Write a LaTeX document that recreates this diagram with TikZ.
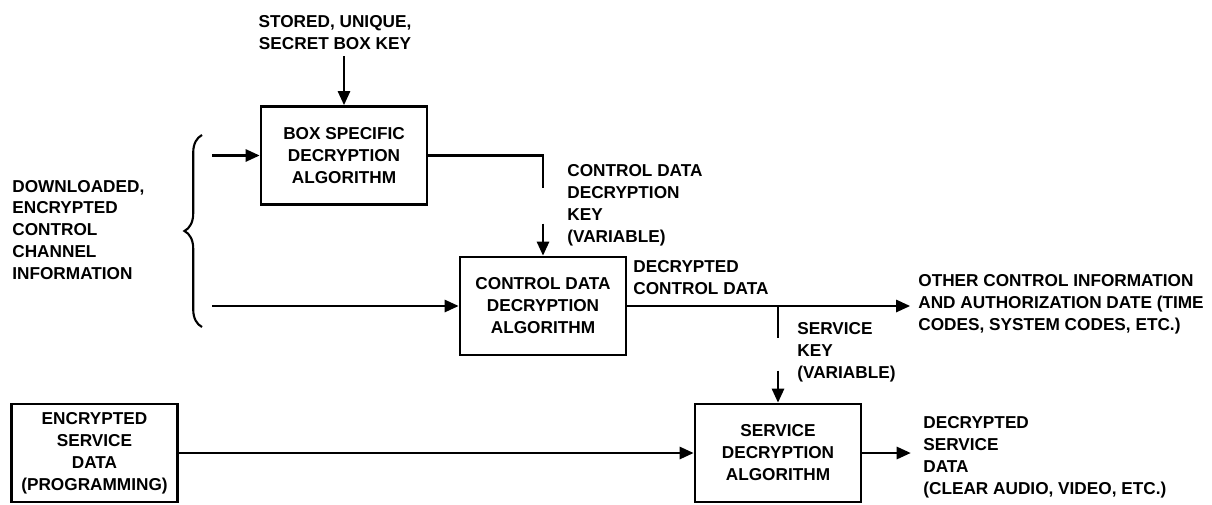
\documentclass[tikz,border=0pt]{standalone}
\usepackage{fontspec}
\setmainfont{Liberation Sans}
\usepackage{tikz}
\usetikzlibrary{
	arrows.meta,
	calc,
	decorations.pathreplacing
}

\begin{document}
\begin{tikzpicture}[x=0.02cm, y=-0.02cm,
	block/.style={draw, line width=1.6pt, minimum width=3.32cm, minimum height=1.96cm, align=center, inner sep=0pt, font=\fontsize{9.8}{12.5}\selectfont\bfseries},
	lbl/.style={align=left, inner sep=0pt, font=\fontsize{9.8}{12.5}\selectfont\bfseries},
	conn/.style={line width=1.2pt},
	arr/.style={line width=1.2pt, -{Triangle[length=8pt, width=7pt]}}]
		\useasboundingbox (0,0) rectangle (1212,504);
		\node[block] (box1) at (344,155.5) {BOX SPECIFIC\\DECRYPTION\\ALGORITHM};
		\node[block] (box2) at (543,306) {CONTROL DATA\\DECRYPTION\\ALGORITHM};
		\node[block] (box3) at (778,453) {SERVICE\\DECRYPTION\\ALGORITHM};
		\node[block] (box4) at (94.5,453) {ENCRYPTED\\SERVICE\\DATA\\(PROGRAMMING)};
		\node[lbl, align=center] (stored) at (335,33) {STORED, UNIQUE,\\SECRET BOX KEY};
		\node[lbl, anchor=west] (downl) at (12,230) {DOWNLOADED,\\ENCRYPTED\\CONTROL\\CHANNEL\\INFORMATION};
		\node[lbl, anchor=west] (cdkey) at (567,205) {CONTROL DATA\\DECRYPTION\\KEY\\(VARIABLE)};
		\node[lbl, anchor=west] (dcd) at (633,278) {DECRYPTED\\CONTROL DATA};
		\node[lbl, anchor=west] (other) at (918,304) {OTHER CONTROL INFORMATION\\AND AUTHORIZATION DATE (TIME\\CODES, SYSTEM CODES, ETC.)};
		\node[lbl, anchor=west] (svkey) at (797,352) {SERVICE\\KEY\\(VARIABLE)};
		\node[lbl, anchor=west] (dsd) at (923,457) {DECRYPTED\\SERVICE\\DATA\\(CLEAR AUDIO, VIDEO, ETC.)};
		\draw[conn, decorate, decoration={brace, amplitude=10pt}] (202,327) -- (202,135);
		\coordinate (brc) at (212,0);
		\draw[arr] (brc |- box1.west) -- (box1.west);
		\draw[arr] (brc |- box2.west) -- (box2.west);
		\draw[arr] ($(box1.north)+(0,-49)$) -- (box1.north);
		\draw[conn] (box1.east) -| ($(box2.north)+(0,-68)$);
		\draw[arr] ($(box2.north)+(0,-32)$) -- (box2.north);
		\draw[arr, shorten >=4.5pt] (box2.east) -- (other.west |- box2.east);
		\coordinate (br) at (box3.north |- box2.east);
		\draw[conn] (br) -- ++(0,32);
		\draw[arr] ($(box3.north)+(0,-32)$) -- (box3.north);
		\draw[arr] (box4.east) -- (box4.east -| box3.west);
		\draw[arr, shorten >=7pt] (box3.east) -- (dsd.west |- box3.east);
	\end{tikzpicture}
\end{document}
